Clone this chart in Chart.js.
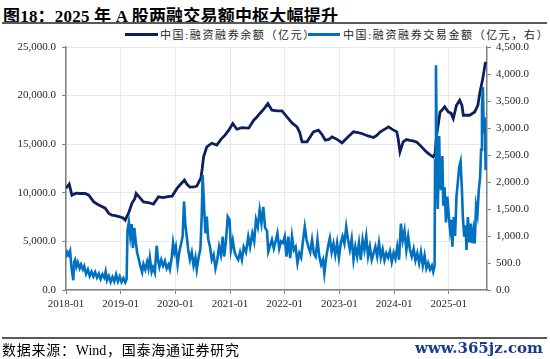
<!DOCTYPE html>
<html>
<head>
<meta charset="utf-8">
<script src="https://cdn.jsdelivr.net/npm/chart.js@4.4.1/dist/chart.umd.min.js"></script>
<style>
  body { margin: 0; width: 550px; height: 359px; position: relative; background: #fff; overflow: hidden; }
  .cn { font-family: "Liberation Serif", "Noto Sans CJK SC", serif; }
  .just { display: inline-block; text-align: justify; text-align-last: justify; white-space: nowrap; }
  #title { position: absolute; left: 3px; top: 2px; font-size: 17px; font-weight: bold; color: #000; white-space: nowrap; letter-spacing: 0.2px; }
  #topline { position: absolute; left: 2px; right: 3px; top: 22px; height: 2px; background: #595959; }
  .swatch { position: absolute; top: 33px; height: 3px; }
  .ltext { position: absolute; top: 26px; font-size: 11px; color: #262626; white-space: nowrap; letter-spacing: 1.6px; }
  #botline { position: absolute; left: 2px; right: 3px; top: 337px; height: 2px; background: #595959; }
  #source { position: absolute; left: 2px; top: 339px; width: 237px; font-size: 14px; color: #000; }
  #mark { position: absolute; right: 7px; top: 339px; font: bold 15px "DejaVu Serif", serif; color: #1a3c8c; }
  #c { position: absolute; left: 0; top: 0; }
</style>
</head>
<body>
<div id="title" class="cn">图18：2025 年 A 股两融交易额中枢大幅提升</div>
<div id="topline"></div>
<div class="swatch" style="left:125px;width:33px;background:#0d1f5c"></div>
<div class="ltext cn" style="left:160px">中国:融资融券余额（亿元）</div>
<div class="swatch" style="left:308px;width:32px;background:#0070c0"></div>
<div class="ltext cn" style="left:343px">中国:融资融券交易金额（亿元，右）</div>
<canvas id="c" width="550" height="359"></canvas>
<div id="botline"></div>
<div id="source" class="cn just">数据来源：Wind，国泰海通证券研究</div>
<div id="mark">www.365jz.com</div>

<script>
// x = months since 2018-01
const tickMonths = [0, 12, 24, 36, 48, 60, 72, 84];
const tickLabels = ["2018-01","2019-01","2020-01","2021-01","2022-01","2023-01","2024-01","2025-01"];

// 融资融券余额 (亿元)
const balanceMonths = [0,0.7,1.3,2.2,3.1,4.2,5.0,6.1,7.0,8.6,9.4,10.1,10.8,11.8,12.5,13.0,13.8,14.5,15.1,15.4,16.2,
  17.0,18.0,19.2,20.3,21.3,22.4,23.3,24.4,25.2,26.0,26.5,27.2,28.1,28.7,29.6,29.9,30.2,30.9,32.0,33.1,
  34.0,34.9,35.8,36.6,37.5,38.6,40.1,41.2,41.9,42.6,43.4,44.3,45.2,46.3,47.4,48.5,49.6,50.7,51.3,51.8,
  52.9,54.3,55.4,56.2,56.9,57.7,58.4,59.5,60.6,61.6,63.1,64.1,64.9,66.3,67.5,68.2,69.0,69.8,70.8,71.7,
  72.6,72.9,73.3,74.0,74.7,75.5,76.2,77.0,77.7,78.3,79.1,79.9,80.6,81.0,81.3,82.1,82.5,83.1,83.9,84.5,
  85.0,85.7,86.4,86.9,87.2,88.0,88.6,89.7,90.4,90.8,91.5,92.0,92.2];
const balanceValues = [10480,10890,9760,9960,9930,9930,9760,9070,8800,8420,7880,7700,7650,7530,7400,7190,8000,8940,9400,9930,9500,
  9070,9000,8840,9590,9500,9600,9660,10480,10900,11300,10900,10580,10600,10690,11510,12500,13700,14720,15100,14900,
  15500,15930,16500,17130,16540,16700,16650,17470,17800,18190,18600,19180,18500,18420,18420,17810,17190,16780,16200,15240,
  15240,16270,16440,16000,15410,15500,15750,15500,15140,15600,16270,16200,16100,15850,15690,15900,16270,16500,16780,16500,
  16270,15590,14210,15240,15480,15400,15340,15200,14900,14600,14210,13900,13700,14000,15750,18320,18500,18840,18320,18200,
  17640,19010,19520,19000,17980,18000,17980,18320,19000,20210,21800,23290,23460];

// 融资融券交易金额 (亿元, 右轴)
const tradeMonths = [0,0.3,0.6,0.9,1.2,1.6,1.8,2.0,2.3,2.6,3.0,3.3,3.7,4.0,4.4,4.8,5.2,5.6,6.0,6.4,
  6.8,7.2,7.6,8.0,8.4,8.7,9.0,9.4,9.8,10.2,10.6,11.0,11.4,11.8,12.2,12.6,13.0,13.3,13.5,13.8,
  14.1,14.4,14.7,15.0,15.3,15.6,16.0,16.3,16.7,17.0,17.4,17.8,18.1,18.4,18.8,19.1,19.5,19.9,20.2,20.5,
  20.9,21.3,21.7,22.1,22.5,22.8,23.2,23.5,23.8,24.1,24.5,24.9,25.3,25.6,25.9,26.2,26.5,26.8,27.2,27.6,
  28.0,28.4,28.7,29.1,29.5,29.8,30.0,30.3,30.6,30.9,31.2,31.6,32.0,32.4,32.8,33.2,33.6,34.0,34.4,34.7,
  35.1,35.5,35.9,36.2,36.6,37.0,37.4,37.8,38.2,38.6,39.0,39.5,40.0,40.4,40.9,41.3,41.7,42.1,42.5,42.9,
  43.3,43.7,44.1,44.4,44.8,45.2,45.6,46.0,46.4,46.8,47.2,47.6,48.0,48.4,48.8,49.2,49.6,50.0,50.4,50.8,
  51.2,51.6,52.0,52.4,52.8,53.2,53.6,54.0,54.4,54.8,55.2,55.6,56.0,56.4,56.7,57.1,57.5,57.9,58.3,58.7,
  59.1,59.5,59.9,60.3,60.7,61.1,61.5,61.9,62.3,62.7,63.1,63.5,63.9,64.3,64.7,65.1,65.5,65.9,66.3,66.7,
  67.1,67.5,67.9,68.3,68.7,69.1,69.5,69.9,70.3,70.7,71.1,71.5,71.9,72.3,72.7,73.1,73.5,73.9,74.3,74.7,
  75.1,75.5,75.9,76.3,76.7,77.1,77.5,77.9,78.3,78.7,79.1,79.5,79.9,80.3,80.6,80.9,81.0,81.2,81.4,81.6,
  81.9,82.1,82.3,82.6,82.8,83.1,83.4,83.7,84.0,84.3,84.6,84.8,85.1,85.4,85.7,86.0,86.3,86.6,86.9,87.1,
  87.4,87.7,87.9,88.2,88.5,88.8,89.1,89.4,89.7,90.0,90.3,90.6,90.9,91.1,91.3,91.5,91.7,91.9,92.1];
const tradeValues = [600,700,650,720,420,180,520,560,430,510,400,470,380,440,300,380,260,340,250,330,
  230,300,200,290,230,340,180,260,150,240,160,290,160,250,150,220,140,200,1100,1260,
  1000,1220,780,1150,900,700,560,450,330,480,380,520,400,600,340,420,320,820,560,430,
  560,450,540,400,470,380,600,870,700,800,470,720,870,1000,1640,1200,1000,760,560,700,
  450,600,380,600,760,1400,2130,1550,1050,1360,950,800,560,650,400,560,800,650,990,620,
  900,1360,1300,740,920,700,620,560,700,560,800,700,990,800,1050,900,1300,1170,1480,1240,
  1540,1150,1100,710,820,930,770,900,1050,770,900,870,990,620,990,590,990,740,800,500,
  680,600,900,1170,930,800,700,930,680,620,930,620,470,560,310,600,800,960,700,860,
  650,870,600,860,990,860,1170,930,750,950,560,800,620,870,560,930,740,990,620,800,
  560,680,800,620,870,600,750,550,680,600,720,520,690,580,800,560,1230,920,1100,740,
  990,740,620,760,550,680,500,700,450,640,400,500,380,450,340,450,2400,4160,2300,1500,
  2850,2000,1850,2480,1560,1900,1250,1730,1400,1110,1300,800,1350,1000,1730,2000,2280,2380,1850,1350,
  990,1200,740,1350,880,1230,870,1100,860,1550,1400,1850,2100,2600,3400,3760,2900,3200,2220];

const pts = (xs, ys) => xs.map((m, i) => ({ x: m, y: ys[i] }));
const fmt = v => v.toLocaleString("en-US", { minimumFractionDigits: 1, maximumFractionDigits: 1 });
const tickFont = { family: "Liberation Serif", size: 11 };

new Chart(document.getElementById("c"), {
  type: "line",
  data: {
    datasets: [
      {
        label: "中国:融资融券交易金额（亿元，右）",
        data: pts(tradeMonths, tradeValues),
        yAxisID: "y1",
        borderColor: "#0070c0",
        borderWidth: 2.6,
        pointRadius: 0,
        tension: 0,
        order: 0
      },
      {
        label: "中国:融资融券余额（亿元）",
        data: pts(balanceMonths, balanceValues),
        yAxisID: "y",
        borderColor: "#0d1f5c",
        borderWidth: 2.8,
        pointRadius: 0,
        tension: 0,
        order: 1
      }
    ]
  },
  options: {
    responsive: false,
    animation: false,
    layout: { padding: { top: 47, left: 0, right: 0, bottom: 0 } },
    plugins: { legend: { display: false }, tooltip: { enabled: false } },
    scales: {
      x: {
        type: "linear",
        min: 0,
        max: 92.4,
        afterBuildTicks: s => { s.ticks = tickMonths.map(v => ({ value: v })); },
        afterFit: s => { s.height = 69; },
        ticks: { callback: (v, i) => tickLabels[i], font: tickFont, color: "#262626", padding: 4, maxRotation: 0 },
        grid: { color: "#e9e9e9", tickColor: "#808080", tickLength: 4 },
        border: { color: "#808080", width: 1.5 }
      },
      y: {
        position: "left",
        min: 0,
        max: 25000,
        ticks: { stepSize: 5000, callback: fmt, font: tickFont, color: "#262626", padding: 6 },
        afterFit: s => { s.width = 66; },
        grid: { color: "#e9e9e9", tickColor: "#808080", tickLength: 4 },
        border: { color: "#808080", width: 1.5 }
      },
      y1: {
        position: "right",
        min: 0,
        max: 4500,
        ticks: { stepSize: 500, callback: fmt, font: tickFont, color: "#262626", padding: 5 },
        afterFit: s => { s.width = 63; },
        grid: { drawOnChartArea: false, tickColor: "#808080", tickLength: 4 },
        border: { color: "#808080", width: 1.5 }
      }
    }
  }
});
</script>
</body>
</html>
